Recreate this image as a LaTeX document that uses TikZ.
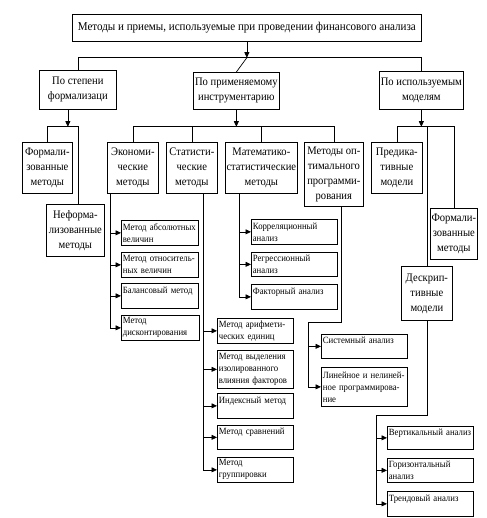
\documentclass[tikz,border=0pt]{standalone}
\usepackage{fontspec}
\setmainfont{Liberation Serif}
\newfontfamily\narrowfont[FakeStretch=0.92]{Liberation Serif}
\usetikzlibrary{arrows.meta,positioning,calc}

\begin{document}
\begin{tikzpicture}[x=1pt,y=-1pt,
  line width=0.7pt,
  lvl/.style={draw,anchor=north west,align=center,inner sep=1pt,
    font=\narrowfont\fontsize{11.5}{15}\selectfont},
  sub/.style={draw,anchor=north west,align=left,inner sep=1.5pt,
    font=\narrowfont\fontsize{9.5}{12}\selectfont},
  arr/.style={-{Triangle[length=5.5pt,width=5pt]}}]
  \useasboundingbox (0,0) rectangle (486,518);

  % top and criteria
  \node[lvl,minimum width=349pt,minimum height=27pt,font=\narrowfont\fontsize{12}{13}\selectfont]
    (top) at (72,14) {Методы и приемы, используемые при проведении финансового анализа};
  \node[lvl,minimum width=77pt,minimum height=39pt] (crit1) at (39,70) {По степени\\формализаци};
  \node[lvl,minimum width=86pt,minimum height=37pt] (crit2) at (193,72) {По применяемому\\инструментарию};
  \node[lvl,minimum width=84pt,minimum height=38pt] (crit3) at (379,71) {По используемым\\моделям};

  \draw[arr] (top.south) -- ++(0,16) coordinate (b0);
  \draw (crit1.north) |- (b0) -| (crit3.north);
  \draw (b0) -- (crit2.north);

  % groups
  \node[lvl,minimum width=50pt,minimum height=51pt] (form) at (22,142) {Формали-\\зованные\\методы};
  \node[lvl,minimum width=58pt,minimum height=52pt] (nonform) at (46,204) {Неформа-\\лизованные\\методы};
  \node[lvl,minimum width=51pt,minimum height=51pt] (econ) at (107,142) {Экономи-\\ческие\\методы};
  \node[lvl,minimum width=51pt,minimum height=51pt] (stat) at (166,142) {Статисти-\\ческие\\методы};
  \node[lvl,minimum width=72pt,minimum height=51pt] (mstat) at (225,142) {Математико-\\статистические\\методы};
  \node[lvl,minimum width=59pt,minimum height=64pt] (opt) at (304,142) {Методы оп-\\тимального\\программи-\\рования};
  \node[lvl,minimum width=51pt,minimum height=51pt] (pred) at (371,142) {Предика-\\тивные\\модели};
  \node[lvl,minimum width=47pt,minimum height=51pt] (formr) at (430,208) {Формали-\\зованные\\методы};
  \node[lvl,minimum width=51pt,minimum height=54pt] (descr) at (401,266) {Дескрип-\\тивные\\модели};

  \draw[arr] ([xshift=-10pt]crit1.south) -- ++(0,17) coordinate (b1);
  \draw (form.north) |- (b1) -| ([xshift=3pt]nonform.north);
  \draw[arr] (crit2.south) -- ++(0,17) coordinate (b2);
  \draw (econ.north) |- (b2) -| (opt.north);
  \draw (stat.north) |- (b2) -| (mstat.north);
  \draw[arr] (crit3.south) -- ++(0,17) coordinate (b3);
  \draw (pred.north) |- (b3) -| (formr.north);
  \draw (b3 -| descr.north) -- (descr.north);

  % economic methods
  \node[sub,text width=74pt,minimum height=25pt] (abs) at (121,220) {Метод абсолютных\\величин};
  \node[sub,text width=74pt,minimum height=25pt] (rel) at (121,252) {Метод относитель-\\ных величин};
  \node[sub,text width=74pt,minimum height=25pt] (bal) at (121,283) {Балансовый метод\\\mbox{}};
  \node[sub,text width=75pt,minimum height=25pt] (disc) at (121,315) {Метод\\дисконтирования};
  \foreach \n in {abs,rel,bal,disc}
    \draw[arr] ([xshift=3pt]econ.south west) |- (\n.west);

  % statistical methods
  \node[sub,text width=73pt,minimum height=25pt] (arith) at (217,318) {Метод арифмети-\\ческих единиц};
  \node[sub,text width=73pt,minimum height=38pt] (isol) at (217,350) {Метод выделения\\изолированного\\влияния факторов};
  \node[sub,text width=73pt,minimum height=25pt] (index) at (217,393) {Индексный метод\\\mbox{}};
  \node[sub,text width=73pt,minimum height=24pt] (comp) at (217,425) {Метод сравнений\\\mbox{}};
  \node[sub,text width=73pt,minimum height=25pt] (group) at (217,457) {Метод\\группировки};
  \foreach \n in {arith,isol,index,comp,group}
    \draw[arr] ([xshift=-14pt]stat.south east) |- (\n.west);

  % math-statistical methods
  \node[sub,text width=83pt,minimum height=25pt] (corr) at (251,219) {Корреляционный\\анализ};
  \node[sub,text width=83pt,minimum height=24pt] (regr) at (251,252) {Регрессионный\\анализ};
  \node[sub,text width=83pt,minimum height=25pt] (fact) at (251,284) {Факторный анализ\\\mbox{}};
  \foreach \n in {corr,regr,fact}
    \draw[arr] ([xshift=14pt]mstat.south west) |- (\n.west);

  % optimal programming
  \node[sub,text width=83pt,minimum height=24pt] (sys) at (321,334) {Системный анализ\\\mbox{}};
  \node[sub,text width=83pt,minimum height=39pt] (lin) at (321,367) {Линейное и нелиней-\\ное программирова-\\ние};
  \coordinate (oj) at (308,322);
  \draw ([xshift=7pt]opt.south) |- (oj);
  \foreach \n in {sys,lin}
    \draw[arr] (oj) |- (\n.west);

  % descriptive models
  \node[sub,text width=83pt,minimum height=23pt] (vert) at (387,426) {Вертикальный анализ\\\mbox{}};
  \node[sub,text width=83pt,minimum height=24pt] (horiz) at (387,458) {Горизонтальный\\анализ};
  \node[sub,text width=83pt,minimum height=25pt] (trend) at (387,491) {Трендовый анализ\\\mbox{}};
  \coordinate (dj) at (376,415);
  \draw (descr.south) |- (dj);
  \foreach \n in {vert,horiz,trend}
    \draw[arr] (dj) |- (\n.west);
\end{tikzpicture}
\end{document}
